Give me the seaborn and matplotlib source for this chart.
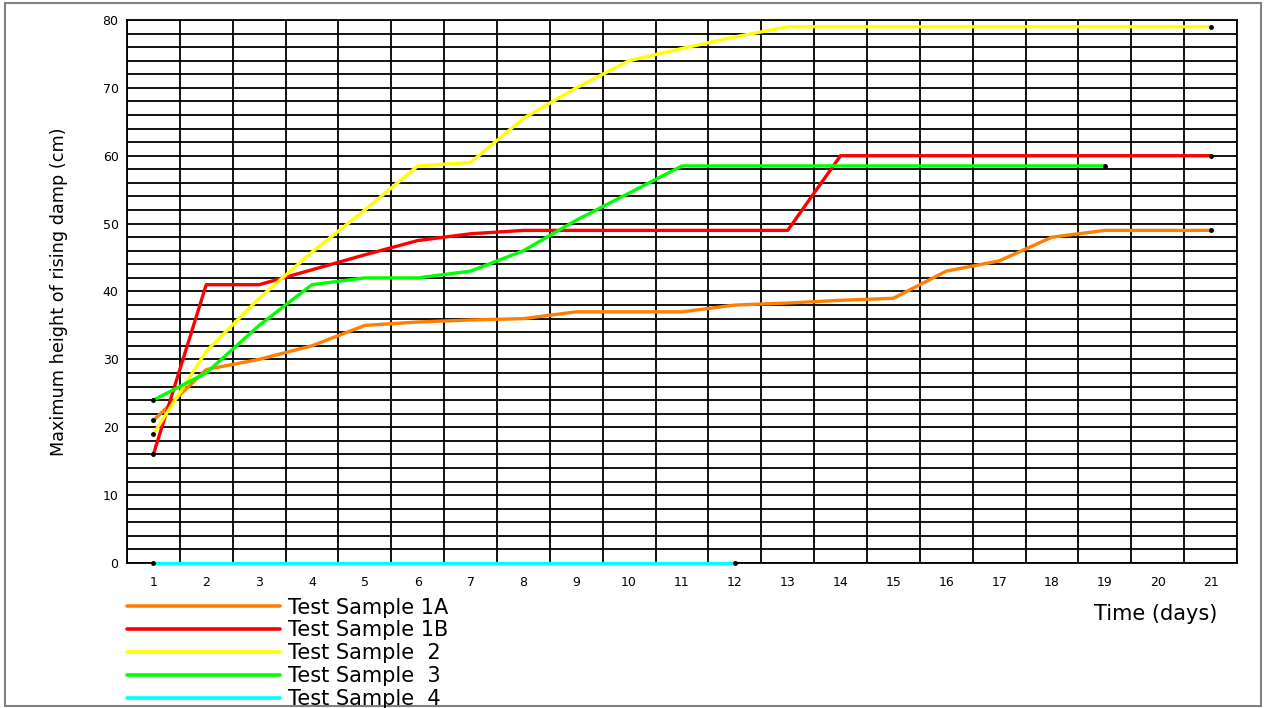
import numpy as np
import pandas as pd
import matplotlib
matplotlib.use("Agg")
import matplotlib.pyplot as plt
import seaborn as sns
from matplotlib.patches import Rectangle
from matplotlib.lines import Line2D

# days and readings (cm)
days = list(range(1, 22))
sample_1a = [21, 28.5, 30, 32, 35, 35.5, 35.8, 36, 37, 37, 37, 38, 38.3, 38.7, 39, 43, 44.5, 48, 49, 49, 49]
sample_1b = [16, 41, 41, 43.2, 45.4, 47.5, 48.5, 49, 49, 49, 49, 49, 49, 60, 60, 60, 60, 60, 60, 60, 60]
sample_2 = [19, 31.2, 39, 45.8, 52, 58.5, 59, 65.5, 70, 74, 75.8, 77.5, 79, 79, 79, 79, 79, 79, 79, 79, 79]
sample_3 = [24, 28, 35, 41, 42, 42, 43, 46, 50.5, 54.5, 58.5, 58.5, 58.5, 58.5, 58.5, 58.5, 58.5, 58.5, 58.5]
sample_4 = [0, 0, 0, 0, 0, 0, 0, 0, 0, 0, 0, 0]

labels = ["Test Sample 1A", "Test Sample 1B", "Test Sample  2", "Test Sample  3", "Test Sample  4"]
colors = ["#ff8000", "#ff0000", "#ffff00", "#00ff00", "#00ffff"]
series = [sample_1a, sample_1b, sample_2, sample_3, sample_4]

rows = []
for lab, vals in zip(labels, series):
    for d, v in zip(days, vals):
        rows.append({"day": d, "height": v, "sample": lab})
df = pd.DataFrame(rows)

sns.set_style("white")
plt.rcParams['font.family'] = ['DejaVu Sans']
plt.rcParams['text.color'] = 'black'
plt.rcParams['axes.labelcolor'] = 'black'
plt.rcParams['xtick.color'] = 'black'
plt.rcParams['ytick.color'] = 'black'

fig = plt.figure(figsize=(12.67, 7.08), dpi=100)
ax = fig.add_axes([0.1002, 0.2048, 0.8761, 0.767])

palette = dict(zip(labels, colors))
sns.lineplot(data=df, x="day", y="height", hue="sample", palette=palette,
             linewidth=2.4, legend=False, ax=ax, zorder=3)
for ln in ax.lines:
    ln.set_clip_on(False)

# little end dots
for lab, vals in zip(labels, series):
    ax.plot([days[0], days[len(vals) - 1]], [vals[0], vals[-1]], 'o', color='black',
            markersize=2.5, zorder=4, clip_on=False)

ax.set_xlim(0.5, 21.5)
ax.set_ylim(0, 80)
ax.set_xticks(days)
ax.set_xticks(np.arange(0.5, 22, 1), minor=True)
ax.set_yticks(range(0, 81, 10))
ax.set_yticks(range(0, 81, 2), minor=True)
ax.grid(which='minor', axis='x', color='black', linewidth=1.3)
ax.grid(which='both', axis='y', color='black', linewidth=1.3)
ax.set_axisbelow(True)
ax.tick_params(axis='x', which='both', length=0, labelsize=9, pad=9)
ax.tick_params(axis='y', which='major', length=4, labelsize=9, pad=2)
ax.tick_params(axis='y', which='minor', length=0)
for s in ax.spines.values():
    s.set_color('black')
    s.set_linewidth(1.3)

ax.set_xlabel("")
ax.set_ylabel("Maximum height of rising damp (cm)", fontsize=12.7, labelpad=25)
fig.text(0.912, 0.133, "Time (days)", fontsize=15, ha='center', va='center')

handles = [Line2D([], [], color=c, linewidth=2.6) for c in colors]
fig.legend(handles, labels, loc='upper left', bbox_to_anchor=(0.1005, 0.156),
           frameon=False, fontsize=15, handlelength=7.35, handletextpad=0.35,
           labelspacing=0.14, borderpad=0, borderaxespad=0)

fig.patches.append(Rectangle((0.004, 0.003), 0.991, 0.993, transform=fig.transFigure,
                             fill=False, edgecolor='#808080', linewidth=1.5))

fig.savefig("out.png", dpi=100)
